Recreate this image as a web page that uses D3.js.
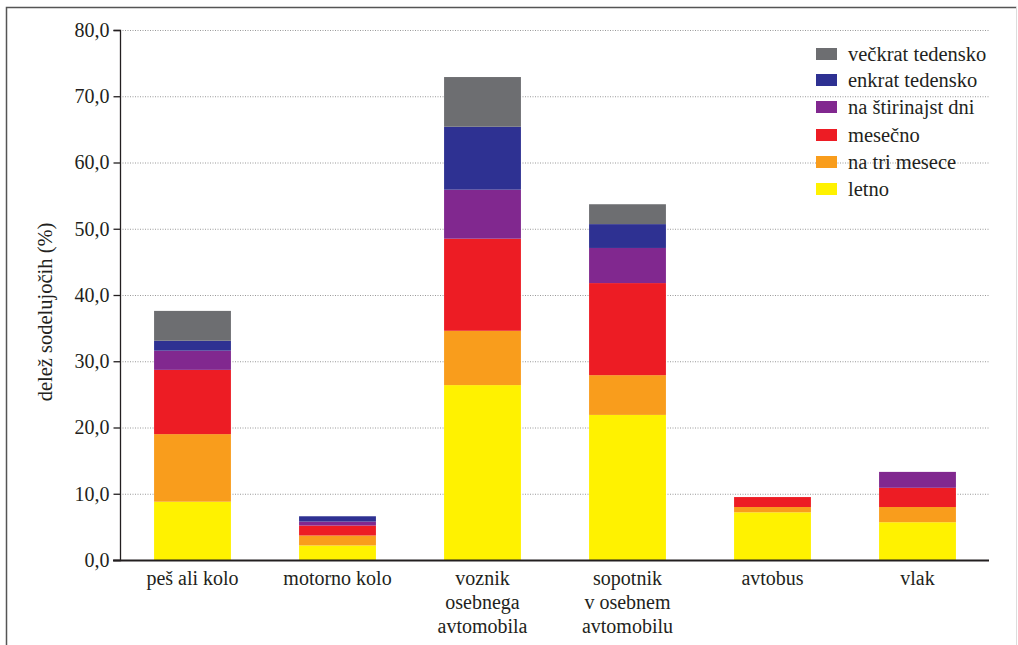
<!DOCTYPE html>
<html>
<head>
<meta charset="utf-8">
<script src="https://cdn.jsdelivr.net/npm/d3@7"></script>
<style>
  body { margin: 0; background: #fff; }
</style>
</head>
<body>
<script>
var categories = [["peš ali kolo"], ["motorno kolo"], ["voznik", "osebnega", "avtomobila"],
                  ["sopotnik", "v osebnem", "avtomobilu"], ["avtobus"], ["vlak"]];
var seriesNames = ["letno", "na tri mesece", "mesečno", "na štirinajst dni", "enkrat tedensko", "večkrat tedensko"];
var letno       = [8.8, 2.2, 26.4, 21.9, 7.2, 5.7];
var triMesece   = [10.2, 1.5, 8.2, 6.0, 0.8, 2.3];
var mesecno     = [9.7, 1.5, 13.9, 13.9, 1.5, 2.9];
var stirinajst  = [2.9, 0.6, 7.4, 5.3, 0, 2.4];
var enkrat      = [1.5, 0.8, 9.5, 3.6, 0, 0];
var veckrat     = [4.5, 0, 7.5, 3.0, 0, 0];
var yTicks = [0, 10, 20, 30, 40, 50, 60, 70, 80];
var colors = ["#fff200", "#f99d1c", "#ed1c24", "#81288f", "#2e3192", "#6d6e71"];

var serif = "'Liberation Serif', Tinos, 'Times New Roman', serif";
var ink = "#231f20";

var width = 1018, height = 645;
var svg = d3.select("body").append("svg").attr("width", width).attr("height", height);

// frame
svg.append("path").attr("d", "M6.5,645 L6.5,7.5 L1016.5,7.5").attr("fill", "none").attr("stroke", "#555").attr("stroke-width", 1.5);
svg.append("line").attr("x1", 1016.5).attr("x2", 1016.5).attr("y1", 7).attr("y2", 645).attr("stroke", "#ddd");

var y = d3.scaleLinear().domain([0, 80]).range([560, 30]);
var x = d3.scaleBand().domain(d3.range(categories.length)).range([120, 990]).paddingInner(0.47).paddingOuter(0.235);

// grid
svg.append("g").selectAll("line").data(yTicks.slice(1)).enter().append("line")
  .attr("x1", 120).attr("x2", 989)
  .attr("y1", function(d) { return y(d) + 0.5; }).attr("y2", function(d) { return y(d) + 0.5; })
  .attr("stroke", "#999").attr("stroke-dasharray", "1,1.5");

var table = categories.map(function(c, i) {
  return { i: i, s0: letno[i], s1: triMesece[i], s2: mesecno[i], s3: stirinajst[i], s4: enkrat[i], s5: veckrat[i] };
});
var stack = d3.stack().keys(["s0", "s1", "s2", "s3", "s4", "s5"]);
var layers = stack(table);

svg.append("g").selectAll("g").data(layers).enter().append("g")
  .attr("fill", function(d, k) { return colors[k]; })
  .selectAll("rect").data(function(d) { return d; }).enter().append("rect")
  .attr("x", function(d) { return x(d.data.i); })
  .attr("width", x.bandwidth())
  .attr("y", function(d) { return y(d[1]); })
  .attr("height", function(d) { return y(d[0]) - y(d[1]); });

// y axis
var yAxis = d3.axisLeft(y).tickValues(yTicks).tickSize(7).tickPadding(4)
  .tickFormat(function(d) { return d3.format(".1f")(d).replace(".", ","); });
var gy = svg.append("g").attr("transform", "translate(120.5,0)").call(yAxis);
gy.select(".domain").attr("stroke", ink).attr("stroke-width", 1.3).attr("d", "M-7,30.5H0V560.5H-7");
gy.selectAll(".tick line").attr("stroke", ink).attr("stroke-width", 1.3);
gy.selectAll(".tick text").attr("font-size", 20).attr("fill", ink);

// x axis line
svg.append("line").attr("x1", 113).attr("x2", 989).attr("y1", 560.5).attr("y2", 560.5)
  .attr("stroke", ink).attr("stroke-width", 2);

// x labels
var xl = svg.append("g").selectAll("text").data(categories).enter().append("text")
  .attr("text-anchor", "middle").attr("font-size", 20)
  .attr("x", function(d, i) { return x(i) + x.bandwidth() / 2; })
  .attr("y", 585);
xl.selectAll("tspan").data(function(d) { return d; }).enter().append("tspan")
  .attr("x", function() { return d3.select(this.parentNode).attr("x"); })
  .attr("dy", function(d, j) { return j === 0 ? 0 : 24; })
  .text(function(d) { return d; });

// y title
svg.append("text").attr("transform", "translate(52,312) rotate(-90)")
  .attr("text-anchor", "middle").attr("font-size", 20.5).text("delež sodelujočih (%)");

// legend
var legendY = [54, 80, 107, 135, 162, 189];
var legendOrder = [5, 4, 3, 2, 1, 0];
var lg = svg.append("g").selectAll("g").data(legendOrder).enter().append("g")
  .attr("transform", function(d, j) { return "translate(816," + legendY[j] + ")"; });
lg.append("rect").attr("x", 0).attr("y", -6).attr("width", 21).attr("height", 12)
  .attr("fill", function(d) { return colors[d]; });
lg.append("text").attr("x", 32).attr("y", 6.5).attr("font-size", 20.5)
  .text(function(d) { return seriesNames[d]; });

svg.selectAll("text, tspan").attr("font-family", serif).attr("fill", ink);
</script>
</body>
</html>
